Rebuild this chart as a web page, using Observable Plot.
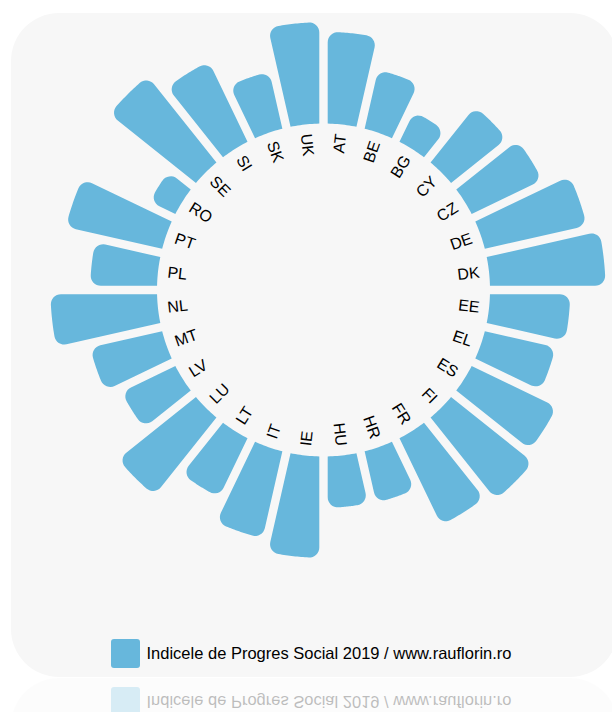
<!DOCTYPE html>
<html><head><meta charset="utf-8">
<script src="https://cdn.jsdelivr.net/npm/d3@7"></script>
<script src="https://cdn.jsdelivr.net/npm/@observablehq/plot@0.6"></script>
<style>
html,body{margin:0;padding:0;background:#fff;}
body{width:612px;height:712px;position:relative;overflow:hidden;font-family:"Liberation Sans",Arial,sans-serif;}
.card{position:absolute;left:11px;top:13px;width:607px;height:663.5px;border-radius:48px;background:#f7f7f7;}
#chart{position:absolute;left:0;top:0;}
.legend{position:absolute;left:0;top:0;width:612px;height:712px;}
.swatch{position:absolute;left:111px;top:639px;width:29px;height:29px;border-radius:3px;background:#67b7dc;}
.ltext{position:absolute;left:146.5px;top:645.3px;font-size:16.5px;line-height:16.5px;color:#000;white-space:nowrap;}
#mirror{position:absolute;left:0;top:0;width:612px;height:712px;transform-origin:0 677.5px;transform:scaleY(-1);opacity:.26;}
</style></head>
<body>
<div class="card"></div>
<div id="chart"></div>
<div class="legend" id="legend"></div>
<div id="mirror"><div class="card"></div><div class="legend" id="legend2"></div></div>
<script>
// ---- data ----
const countries = ["AT","BE","BG","CY","CZ","DE","DK","EE","EL","ES","FI","FR","HR","HU","IE","IT","LT","LU","LV","MT","NL","PL","PT","RO","SE","SI","SK","UK"];
const values = [86.3,81.4,77.2,83.1,84.2,88.3,90.0,84.5,83.3,86.7,88.3,87.0,80.2,80.0,87.8,85.9,82.2,87.5,81.3,83.5,88.6,82.4,87.4,76.4,89.2,85.9,81.1,87.8];
const seriesName = "Indicele de Progres Social 2019 / www.rauflorin.ro";
const barColor = "#67b7dc";

// ---- geometry ----
const W = 612, H = 632;
const cx = 323, cy = 289.5;
const N = countries.length;
const step = 2 * Math.PI / N;
const rScale = d3.scaleLinear().domain([72, 90]).range([166.5, 282]);
const r0 = rScale(72);
const pad = 4.2, corner = 10, labelR = 157;

const pt = (t, s, th) => [t * Math.sin(th) + s * Math.cos(th), t * Math.cos(th) - s * Math.sin(th)];
function arcPts(ox, oy, R, a0, a1, n) {
  let d = a1 - a0;
  while (d > Math.PI) d -= 2 * Math.PI;
  while (d < -Math.PI) d += 2 * Math.PI;
  const out = [];
  for (let k = 0; k <= n; k++) { const a = a0 + d * k / n; out.push([ox + R * Math.cos(a), oy + R * Math.sin(a)]); }
  return out;
}
const ang = (p, c = [0, 0]) => Math.atan2(p[1] - c[1], p[0] - c[0]);
function barShape(i, v) {
  const thc = (i + 0.5) * step, tha = thc - step / 2, thb = thc + step / 2;
  const r1 = rScale(v);
  const rc = Math.min(corner, (r1 - r0) / 2);
  const tin = Math.sqrt(r0 * r0 - pad * pad);
  const tout = Math.sqrt((r1 - rc) ** 2 - (pad + rc) ** 2);
  const innerA = pt(tin, pad, tha);
  const T1a = pt(tout, pad, tha);
  const Ca = pt(tout, pad + rc, tha);
  const T2a = [Ca[0] * r1 / (r1 - rc), Ca[1] * r1 / (r1 - rc)];
  const innerB = pt(tin, -pad, thb);
  const T1b = pt(tout, -pad, thb);
  const Cb = pt(tout, -(pad + rc), thb);
  const T2b = [Cb[0] * r1 / (r1 - rc), Cb[1] * r1 / (r1 - rc)];
  const pts = [innerA];
  pts.push(...arcPts(Ca[0], Ca[1], rc, ang(T1a, Ca), ang(T2a, Ca), 8));
  pts.push(...arcPts(0, 0, r1, ang(T2a), ang(T2b), 16));
  pts.push(...arcPts(Cb[0], Cb[1], rc, ang(T2b, Cb), ang(T1b, Cb), 8));
  pts.push(innerB);
  pts.push(...arcPts(0, 0, r0, ang(innerB), ang(innerA), 12));
  return pts;
}
const barPts = countries.flatMap((c, i) => barShape(i, values[i]).map(([x, y]) => ({country: c, x, y})));
const labels = countries.map((c, i) => {
  const th = (i + 0.5) * step, deg = th * 180 / Math.PI, right = deg < 180;
  return {country: c, x: labelR * Math.sin(th), y: labelR * Math.cos(th), rotate: right ? deg - 90 : deg - 270, right};
});

const font = "Liberation Sans, Arial, sans-serif";
const chart = Plot.plot({
  width: W, height: H, margin: 0,
  x: {domain: [-cx, W - cx], range: [0, W], axis: null},
  y: {domain: [cy, cy - H], range: [0, H], axis: null},
  style: {background: "transparent", overflow: "visible"},
  marks: [
    Plot.line(barPts, {x: "x", y: "y", z: "country", fill: barColor, stroke: "none"}),
    Plot.text(labels.filter(d => d.right), {x: "x", y: "y", text: "country", rotate: "rotate", textAnchor: "end", fontSize: 16, fontFamily: font, fill: "#000"}),
    Plot.text(labels.filter(d => !d.right), {x: "x", y: "y", text: "country", rotate: "rotate", textAnchor: "start", fontSize: 16, fontFamily: font, fill: "#000"})
  ]
});
document.getElementById("chart").appendChild(chart);

for (const id of ["legend", "legend2"]) {
  const el = document.getElementById(id);
  const sw = document.createElement("div"); sw.className = "swatch"; sw.style.background = barColor;
  const tx = document.createElement("div"); tx.className = "ltext"; tx.textContent = seriesName;
  el.appendChild(sw); el.appendChild(tx);
}
</script>
</body></html>
